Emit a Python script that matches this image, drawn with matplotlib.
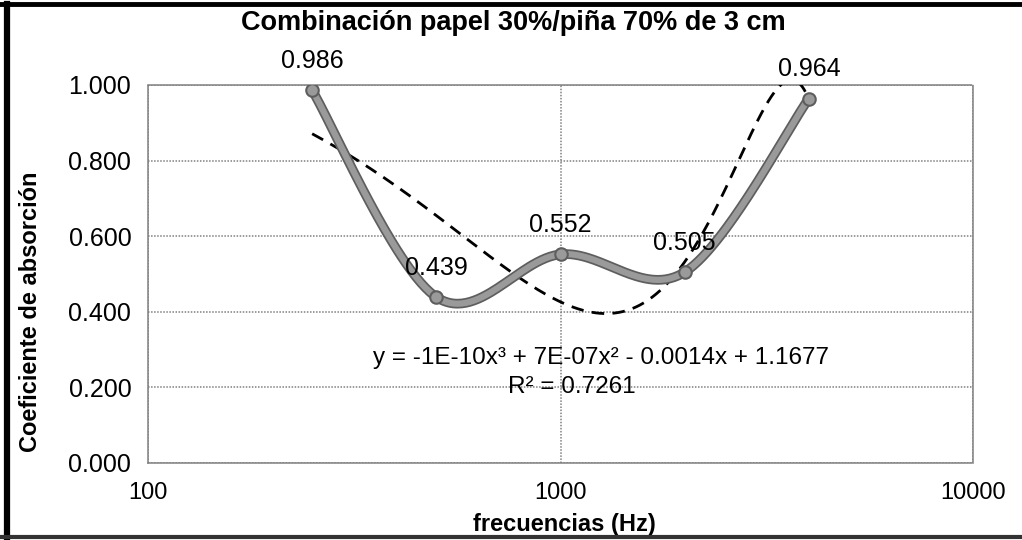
import numpy as np
import matplotlib
matplotlib.use("Agg")
import matplotlib.pyplot as plt
import matplotlib.patheffects as pe
from matplotlib.lines import Line2D
from matplotlib.ticker import FixedLocator, FuncFormatter, NullLocator

plt.rcParams['font.family'] = ['Liberation Sans', 'DejaVu Sans']

# data
freq = [250, 500, 1000, 2000, 4000]
coef = [0.986, 0.439, 0.552, 0.505, 0.964]
labels = ["0.986", "0.439", "0.552", "0.505", "0.964"]
y_ticks = [0.0, 0.2, 0.4, 0.6, 0.8, 1.0]
x_ticks = [100, 1000, 10000]
equation = "y = -1E-10x³ + 7E-07x² - 0.0014x + 1.1677"
r2_text = "R² = 0.7261"

fig = plt.figure(figsize=(10.22, 5.4), dpi=100)
ax = fig.add_axes([148 / 1022, 1 - 463 / 540, 825 / 1022, 378 / 540])
ax.set_xscale('log')
ax.set_xlim(100, 10000)
ax.set_ylim(0, 1.0)

# outer frame of the scanned chart (left, top, bottom)
fig.lines.append(Line2D([0.007, 0.007], [0.0, 0.993], transform=fig.transFigure, lw=4.5, color='black'))
fig.lines.append(Line2D([0.0, 1.0], [0.992, 0.992], transform=fig.transFigure, lw=3.5, color='black'))
fig.lines.append(Line2D([0.0, 1.0], [0.006, 0.006], transform=fig.transFigure, lw=3, color='#333333'))

# grid
ax.yaxis.set_major_locator(FixedLocator(y_ticks))
ax.xaxis.set_major_locator(FixedLocator(x_ticks))
ax.xaxis.set_minor_locator(NullLocator())
ax.yaxis.set_major_formatter(FuncFormatter(lambda v, p: "%.3f" % v))
ax.xaxis.set_major_formatter(FuncFormatter(lambda v, p: "%d" % v))
ax.grid(True, color='#808080', ls=(0, (1, 1)), lw=1.1)
ax.set_axisbelow(True)
for s in ax.spines.values():
    s.set_color('#808080')
    s.set_linestyle((0, (1, 1)))
    s.set_linewidth(1.1)
ax.tick_params(length=0, labelsize=18)
ax.tick_params(axis='y', pad=12)
ax.tick_params(axis='x', pad=14)
for t in ax.get_xticklabels():
    t.set_fontsize(17)

# polynomial trendline (cubic, linear x)
coefs = np.polyfit(freq, coef, 3)
xt = np.linspace(freq[0], freq[-1], 400)
ax.plot(xt, np.polyval(coefs, xt), color='black', ls=(0, (4.5, 3)), lw=2.0, zorder=3)

# smoothed line (Catmull-Rom bezier in screen space, like Excel)
pts = ax.transData.transform(np.column_stack([freq, coef]))
ext = np.vstack([pts[0], pts, pts[-1]])
curve = []
for i in range(1, len(ext) - 2):
    p0, p1, p2, p3 = ext[i - 1], ext[i], ext[i + 1], ext[i + 2]
    c1 = p1 + (p2 - p0) / 6.0
    c2 = p2 - (p3 - p1) / 6.0
    t = np.linspace(0, 1, 60)[:, None]
    seg = ((1 - t) ** 3) * p1 + 3 * ((1 - t) ** 2) * t * c1 + 3 * (1 - t) * t ** 2 * c2 + t ** 3 * p2
    curve.append(seg)
curve = ax.transData.inverted().transform(np.vstack(curve))
ax.plot(curve[:, 0], curve[:, 1], color='#9a9a9a', lw=4.5,
        path_effects=[pe.Stroke(linewidth=7, foreground='#5e5e5e'), pe.Normal()],
        solid_capstyle='round', zorder=4)
ax.plot(freq, coef, 'o', ms=9, mfc='#9a9a9a', mec='#5e5e5e', mew=1.5, zorder=5)

for xv, yv, lb in zip(freq, coef, labels):
    ax.annotate(lb, (xv, yv), xytext=(0, 21), textcoords='offset points',
                ha='center', va='center', fontsize=18, zorder=6)

ax.text(0.549, 0.278, equation, transform=ax.transAxes, ha='center', va='center',
        fontsize=17.5, zorder=6)
ax.text(0.514, 0.201, r2_text, transform=ax.transAxes, ha='center', va='center',
        fontsize=17.5, zorder=6)

fig.text(0.502, 0.958, "Combinación papel 30%/piña 70% de 3 cm", ha='center', va='center',
         fontsize=19.5, fontweight='bold')
ax.set_xlabel("frecuencias (Hz)", fontsize=17, fontweight='bold')
ax.xaxis.set_label_coords(0.505, -0.132)
ax.set_ylabel("Coeficiente de absorción", fontsize=17, fontweight='bold')
ax.yaxis.set_label_coords(-0.128, 0.40)

fig.savefig('out.png', dpi=100)
